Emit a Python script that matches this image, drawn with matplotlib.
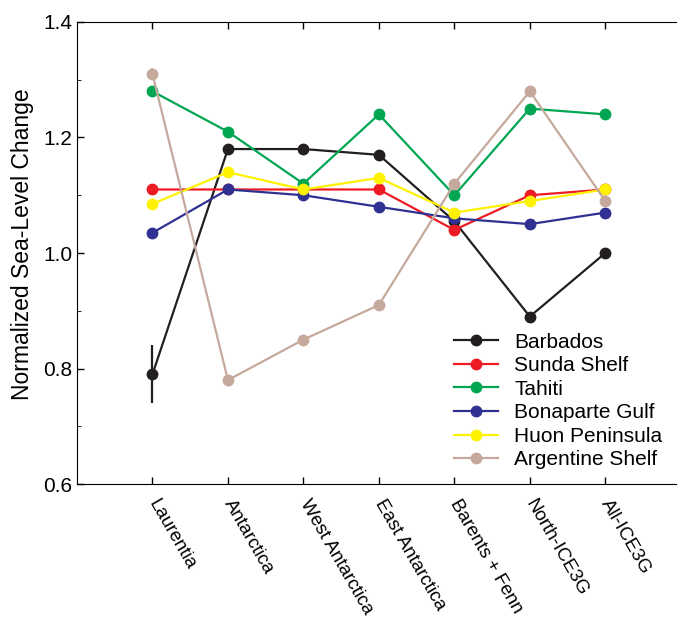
import matplotlib.pyplot as plt
import numpy as np
from matplotlib.ticker import MultipleLocator

plt.rcParams['font.family'] = ['Liberation Sans', 'DejaVu Sans']

regions = ['Laurentia', 'Antarctica', 'West Antarctica', 'East Antarctica',
           'Barents + Fenn', 'North-ICE3G', 'All-ICE3G']

barbados = [0.79, 1.18, 1.18, 1.17, 1.055, 0.89, 1.00]
sunda = [1.11, 1.11, 1.11, 1.11, 1.04, 1.10, 1.11]
tahiti = [1.28, 1.21, 1.12, 1.24, 1.10, 1.25, 1.24]
bonaparte = [1.035, 1.11, 1.10, 1.08, 1.06, 1.05, 1.07]
huon = [1.085, 1.14, 1.11, 1.13, 1.07, 1.09, 1.11]
argentine = [1.31, 0.78, 0.85, 0.91, 1.12, 1.28, 1.09]

# error bars only on the first point
barbados_err = 0.05
sunda_err = 0.01
tahiti_err = 0.01
argentine_err = 0.01

names = ['Barbados', 'Sunda Shelf', 'Tahiti', 'Bonaparte Gulf', 'Huon Peninsula', 'Argentine Shelf']
colors = ['#231f20', '#ed1c24', '#00a651', '#2e3192', '#fff200', '#c6a99d']
series = [barbados, sunda, tahiti, bonaparte, huon, argentine]
errs = [barbados_err, sunda_err, tahiti_err, 0, 0, argentine_err]

fig = plt.figure(figsize=(6.77, 6.19), dpi=100)
ax = fig.add_axes([0.1137, 0.218, 0.8863, 0.7465])

x = np.arange(len(regions))
for name, vals, c, e in zip(names, series, colors, errs):
    ax.plot(x, vals, '-o', color=c, lw=1.6, ms=7.5, label=name, zorder=3)
    if e > 0:
        ax.errorbar(x[0], vals[0], yerr=e, color=c, lw=1.6, capsize=0, zorder=3)

ax.set_xlim(-1, 6.95)
ax.set_ylim(0.6, 1.4)
ax.set_xticks(x)
ax.set_xticklabels(regions, rotation=-60, ha='left', va='center', rotation_mode='anchor', fontsize=13.5)
ax.set_yticks([0.6, 0.8, 1.0, 1.2, 1.4])
ax.set_yticklabels(['0.6', '0.8', '1.0', '1.2', '1.4'])
ax.yaxis.set_minor_locator(MultipleLocator(0.1))
ax.tick_params(axis='both', direction='in', labelsize=15, width=1, length=5, top=True)
ax.tick_params(axis='x', labelsize=13.5, pad=12)
ax.tick_params(axis='y', which='minor', direction='in', length=3)
ax.spines['right'].set_visible(False)
ax.set_ylabel('Normalized Sea-Level Change', fontsize=16.5)
ax.yaxis.set_label_coords(-0.072, 0.52)

ax.legend(loc='lower right', bbox_to_anchor=(1.0, 0.0), frameon=False, fontsize=15,
          handlelength=2.1, labelspacing=0.22, handletextpad=0.8, borderaxespad=0.3)

fig.savefig('out.png')
